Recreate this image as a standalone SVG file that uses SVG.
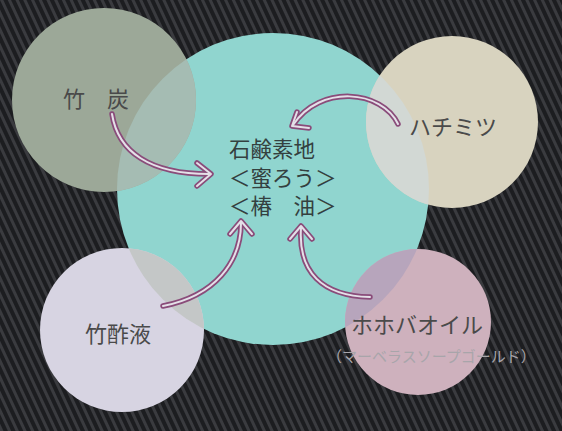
<svg xmlns="http://www.w3.org/2000/svg" width="562" height="431" viewBox="0 0 562 431">
<defs>
<pattern id="stripes" width="7" height="10" patternUnits="userSpaceOnUse" patternTransform="rotate(-25)">
<rect width="7" height="10" fill="#1c1d20"/>
<rect x="0" y="0" width="3" height="10" fill="#3a3b3f"/>
</pattern>
<clipPath id="clipTeal"><circle cx="273" cy="189" r="156"/></clipPath>
<style>
.lbl{font-family:"Noto Sans CJK JP","Noto Sans CJK SC",sans-serif;fill:#4a4a4a;font-size:22px}
.ctr{font-family:"Noto Sans CJK JP","Noto Sans CJK SC",sans-serif;fill:#34403f;font-size:21.5px}
.sub{font-family:"Noto Sans CJK JP","Noto Sans CJK SC",sans-serif;fill:#a8a5aa;font-size:15px}
.ao{fill:none;stroke:#8a4c7a;stroke-width:5.5;stroke-linecap:round;stroke-linejoin:round}
.ai{fill:none;stroke:#e4e0e8;stroke-width:2;stroke-linecap:round;stroke-linejoin:round}
</style>
</defs>
<rect width="562" height="431" fill="url(#stripes)"/>
<g id="center">
<circle cx="273" cy="189" r="156" fill="#90d5cf"/>
</g>
<g id="takesumi">
<circle cx="104" cy="100" r="92" fill="#9ca898"/>
<circle cx="104" cy="100" r="92" fill="#a5bcb3" clip-path="url(#clipTeal)"/>
<text class="lbl" x="63" y="107">竹　炭</text>
</g>
<g id="hachimitsu">
<circle cx="452" cy="122" r="86" fill="#d8d3bf"/>
<circle cx="452" cy="122" r="86" fill="#d2d8d4" clip-path="url(#clipTeal)"/>
<text class="lbl" x="409" y="135">ハチミツ</text>
</g>
<g id="chikusakueki">
<circle cx="122" cy="330" r="82" fill="#d7d4e2"/>
<circle cx="122" cy="330" r="82" fill="#c4c7c7" clip-path="url(#clipTeal)"/>
<text class="lbl" x="85" y="342">竹酢液</text>
</g>
<g id="hohoba">
<circle cx="418" cy="322" r="73" fill="#ceb1bd"/>
<circle cx="418" cy="322" r="73" fill="#b7a5bc" clip-path="url(#clipTeal)"/>
<text class="lbl" x="351" y="333">ホホバオイル</text>
<text class="sub" x="327" y="362">（マーベラスソープゴールド）</text>
</g>
<g id="centerText">
<text class="ctr" x="229" y="157">石鹸素地</text>
<text class="ctr" x="229" y="186">＜蜜ろう＞</text>
<text class="ctr" x="229" y="214">＜椿　油＞</text>
</g>
<g id="connectors">
<path class="ao" d="M112,114 C118,152 150,174 209,174"/>
<path class="ao" d="M197,163 L211,174 L197,186"/>
<path class="ao" d="M398,124 C382,90 320,84 293,125"/>
<path class="ao" d="M297,112 L292,126 L309,128"/>
<path class="ao" d="M163,306 C215,296 241,262 241,223"/>
<path class="ao" d="M230,234 L241,221 L252,234"/>
<path class="ao" d="M370,297 C322,296 298,272 301,228"/>
<path class="ao" d="M290,239 L301,226 L312,239"/>
<path class="ai" d="M112,114 C118,152 150,174 209,174"/>
<path class="ai" d="M197,163 L211,174 L197,186"/>
<path class="ai" d="M398,124 C382,90 320,84 293,125"/>
<path class="ai" d="M297,112 L292,126 L309,128"/>
<path class="ai" d="M163,306 C215,296 241,262 241,223"/>
<path class="ai" d="M230,234 L241,221 L252,234"/>
<path class="ai" d="M370,297 C322,296 298,272 301,228"/>
<path class="ai" d="M290,239 L301,226 L312,239"/>
</g>
</svg>
